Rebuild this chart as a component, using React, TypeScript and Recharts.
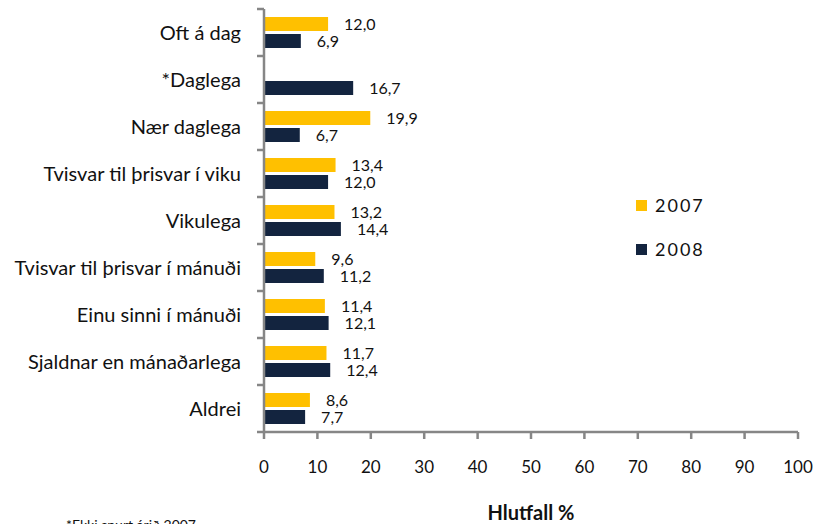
import React from "react"
import { BarChart, Bar, XAxis, YAxis, LabelList } from "recharts"

const categories = [
  "Oft á dag",
  "*Daglega",
  "Nær daglega",
  "Tvisvar til þrisvar í viku",
  "Vikulega",
  "Tvisvar til þrisvar í mánuði",
  "Einu sinni í mánuði",
  "Sjaldnar en mánaðarlega",
  "Aldrei",
]
const values2007 = [12.0, null, 19.9, 13.4, 13.2, 9.6, 11.4, 11.7, 8.6]
const values2008 = [6.9, 16.7, 6.7, 12.0, 14.4, 11.2, 12.1, 12.4, 7.7]
const xTicks = [0, 10, 20, 30, 40, 50, 60, 70, 80, 90, 100]

const data = categories.map((name, i) => ({
  name,
  y2007: values2007[i],
  y2008: values2008[i],
}))

const W = 828
const H = 524
const margin = { top: 9, right: 30, left: 0, bottom: 0 }
const xAxisHeight = 92
const yAxisWidth = 264
const band = (H - margin.top - margin.bottom - xAxisHeight) / categories.length

const font = "Lato, 'Open Sans', sans-serif"
const axisColor = "#868686"
const yellow = "#FFC000"
const navy = "#13243F"

const fmt = (v: any) => (v == null ? "" : Number(v).toFixed(1).replace(".", ","))

const legendItems = [
  { label: "2007", color: yellow },
  { label: "2008", color: navy },
]

function CategoryTick(props: any) {
  const { x, y, payload, index } = props
  const axisX = margin.left + yAxisWidth
  return (
    <g>
      <line x1={axisX - 7} x2={axisX} y1={y - band / 2} y2={y - band / 2} stroke={axisColor} strokeWidth={2.5} />
      {index === categories.length - 1 && (
        <line x1={axisX - 7} x2={axisX} y1={y + band / 2} y2={y + band / 2} stroke={axisColor} strokeWidth={2.5} />
      )}
      <text x={x} y={y} dy={7} textAnchor="end" fontSize={20} fill="#111" fontFamily={font}>
        {payload.value}
      </text>
    </g>
  )
}

export default function App() {
  return (
    <div style={{ position: "absolute", left: 0, top: 0, width: W, height: H, overflow: "hidden", background: "#fff" }}>
      <BarChart
        width={W}
        height={H}
        data={data}
        layout="vertical"
        margin={margin}
        barCategoryGap="17%"
        barGap={3}
      >
        <XAxis
          type="number"
          domain={[0, 100]}
          ticks={xTicks}
          interval={0}
          height={xAxisHeight}
          tick={{ fontSize: 17, fill: "#111", fontFamily: font }}
          tickMargin={22}
          tickSize={7}
          stroke={axisColor}
          strokeWidth={2.5}
          label={{
            value: "Hlutfall %",
            position: "insideBottom",
            offset: 4,
            style: { fontSize: 20, fontWeight: 700, fill: "#111", fontFamily: font },
          }}
        />
        <YAxis
          type="category"
          dataKey="name"
          width={yAxisWidth}
          interval={0}
          tickLine={false}
          tickMargin={17}
          tick={<CategoryTick />}
          stroke={axisColor}
          strokeWidth={2.5}
        />
        <Bar dataKey="y2007" name="2007" fill={yellow} isAnimationActive={false}>
          <LabelList
            dataKey="y2007"
            position="right"
            offset={16}
            formatter={fmt}
            style={{ fontSize: 16, fill: "#111", fontFamily: font }}
          />
        </Bar>
        <Bar dataKey="y2008" name="2008" fill={navy} isAnimationActive={false}>
          <LabelList
            dataKey="y2008"
            position="right"
            offset={16}
            formatter={fmt}
            style={{ fontSize: 16, fill: "#111", fontFamily: font }}
          />
        </Bar>
      </BarChart>
      <div style={{ position: "absolute", left: 636, top: 183, fontFamily: font, fontSize: 18, color: "#111" }}>
        {legendItems.map((it) => (
          <div key={it.label} style={{ display: "flex", alignItems: "center", height: 44 }}>
            <span style={{ width: 11, height: 11, background: it.color, marginRight: 8 }} />
            <span style={{ letterSpacing: 2 }}>{it.label}</span>
          </div>
        ))}
      </div>
      <div
        style={{
          position: "absolute",
          right: W - 196,
          top: 516,
          fontFamily: font,
          fontSize: 14,
          color: "#111",
          whiteSpace: "nowrap",
        }}
      >
        *Ekki spurt árið 2007
      </div>
    </div>
  )
}
